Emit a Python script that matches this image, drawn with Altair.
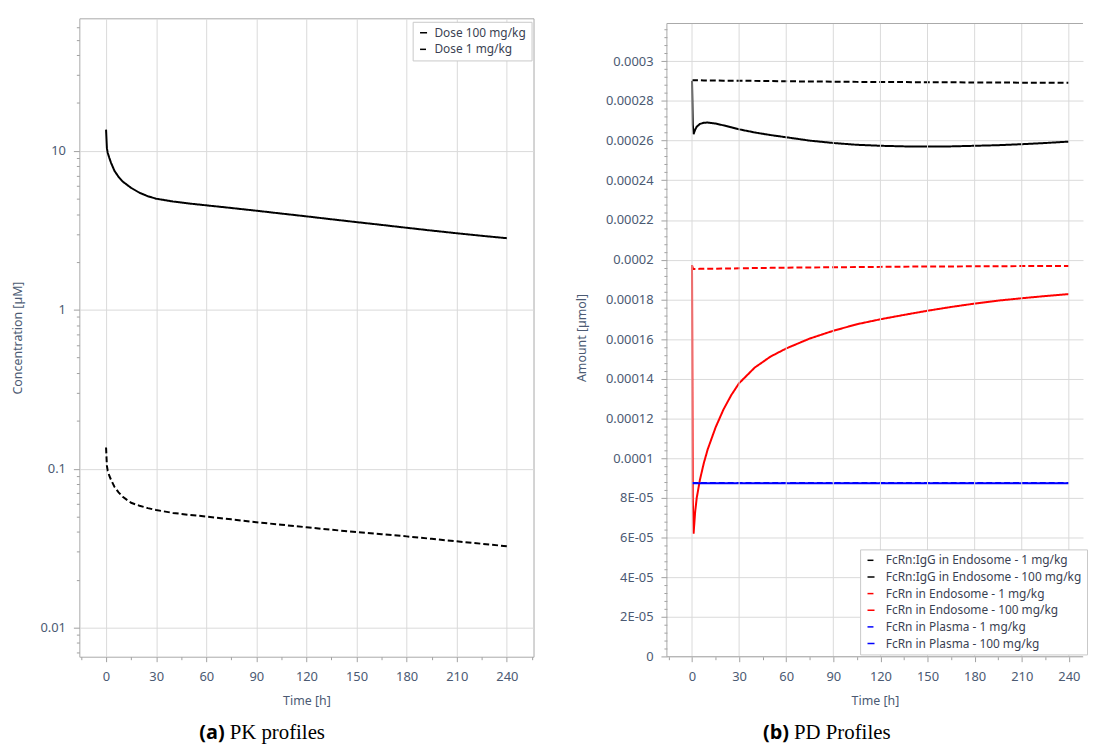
import json
import altair as alt
import pandas as pd

# ---------------- data ----------------
T_PK = [0, 0.5, 1, 2, 3, 5, 7.5, 10, 15, 20, 25, 30, 40, 50, 60, 75, 90, 105,
        120, 135, 150, 165, 180, 195, 210, 225, 240]
PK_DOSE_100 = [13.6, 10.4, 9.7, 9.0, 8.4, 7.5, 6.85, 6.4, 5.85, 5.45, 5.18, 5.0,
               4.8, 4.66, 4.54, 4.37, 4.2, 4.03, 3.87, 3.71, 3.56, 3.42, 3.28,
               3.15, 3.03, 2.92, 2.82]
PK_DOSE_1 = [0.136, 0.104, 0.097, 0.09, 0.085, 0.077, 0.071, 0.0665, 0.061,
             0.0585, 0.0565, 0.0549, 0.0527, 0.0512, 0.05, 0.048, 0.046, 0.0444,
             0.0428, 0.0413, 0.0399, 0.0387, 0.0375, 0.0362, 0.0349, 0.0337,
             0.0325]
PK_SERIES = ["Dose 100 mg/kg", "Dose 1 mg/kg"]

T_PD = [0, 0.5, 1, 2, 3, 5, 7.5, 10, 15, 20, 25, 30, 40, 50, 60, 75, 90, 105,
        120, 135, 150, 165, 180, 195, 210, 225, 240]
IGG_ENDO_1 = [2.905e-4, 2.904e-4, 2.904e-4, 2.904e-4, 2.904e-4, 2.904e-4,
              2.903e-4, 2.903e-4, 2.903e-4, 2.902e-4, 2.902e-4, 2.902e-4,
              2.901e-4, 2.900e-4, 2.899e-4, 2.898e-4, 2.897e-4, 2.896e-4,
              2.895e-4, 2.895e-4, 2.894e-4, 2.894e-4, 2.893e-4, 2.893e-4,
              2.892e-4, 2.892e-4, 2.891e-4]
IGG_ENDO_100 = [2.90e-4, 2.68e-4, 2.633e-4, 2.655e-4, 2.670e-4, 2.684e-4,
                2.690e-4, 2.691e-4, 2.686e-4, 2.677e-4, 2.667e-4, 2.657e-4,
                2.641e-4, 2.628e-4, 2.617e-4, 2.600e-4, 2.588e-4, 2.579e-4,
                2.574e-4, 2.571e-4, 2.570e-4, 2.571e-4, 2.574e-4, 2.577e-4,
                2.582e-4, 2.588e-4, 2.595e-4]
FCRN_ENDO_1 = [1.972e-4, 1.958e-4, 1.953e-4, 1.953e-4, 1.953e-4, 1.954e-4,
               1.954e-4, 1.955e-4, 1.955e-4, 1.956e-4, 1.956e-4, 1.957e-4,
               1.958e-4, 1.959e-4, 1.960e-4, 1.961e-4, 1.962e-4, 1.963e-4,
               1.964e-4, 1.965e-4, 1.966e-4, 1.966e-4, 1.967e-4, 1.967e-4,
               1.968e-4, 1.968e-4, 1.968e-4]
FCRN_ENDO_100 = [1.973e-4, 0.80e-4, 0.62e-4, 0.73e-4, 0.80e-4, 0.89e-4,
                 0.975e-4, 1.045e-4, 1.155e-4, 1.245e-4, 1.318e-4, 1.378e-4,
                 1.457e-4, 1.512e-4, 1.553e-4, 1.603e-4, 1.642e-4, 1.675e-4,
                 1.700e-4, 1.722e-4, 1.743e-4, 1.762e-4, 1.779e-4, 1.794e-4,
                 1.806e-4, 1.817e-4, 1.827e-4]
T_PLASMA = [0, 30, 60, 90, 120, 150, 180, 210, 240]
FCRN_PLASMA_1 = [8.75e-5, 8.75e-5, 8.75e-5, 8.75e-5, 8.75e-5, 8.75e-5,
                 8.75e-5, 8.75e-5, 8.75e-5]
FCRN_PLASMA_100 = [8.74e-5, 8.74e-5, 8.74e-5, 8.74e-5, 8.74e-5, 8.74e-5,
                   8.74e-5, 8.74e-5, 8.74e-5]
PD_SERIES = [
    "FcRn:IgG in Endosome - 1 mg/kg",
    "FcRn:IgG in Endosome - 100 mg/kg",
    "FcRn in Endosome - 1 mg/kg",
    "FcRn in Endosome - 100 mg/kg",
    "FcRn in Plasma - 1 mg/kg",
    "FcRn in Plasma - 100 mg/kg",
]
PD_COLORS = ["#000000", "#000000", "#ff0000", "#ff0000", "#0000ff", "#0000ff"]

# axis ticks / labels
X_MAJOR = [0, 30, 60, 90, 120, 150, 180, 210, 240]
X_LABELS = ["0", "30", "60", "90", "120", "150", "180", "210", "240"]
X_TICKS_LEFT = list(range(-15, 256, 15))
X_TICKS_RIGHT = list(range(-15, 241, 15))

PK_Y_MAJOR = [0.01, 0.1, 1, 10]
PK_Y_LABELS = ["0.01", "0.1", "1", "10"]
PK_Y_TICKS = [m * d for d in (0.001, 0.01, 0.1, 1, 10) for m in range(1, 10)
              if 0.0066 <= m * d <= 68]

PD_Y_MAJOR = [round(i * 2e-5, 10) for i in range(16)]
PD_Y_LABELS = ["0", "2E-05", "4E-05", "6E-05", "8E-05", "0.0001", "0.00012",
               "0.00014", "0.00016", "0.00018", "0.0002", "0.00022",
               "0.00024", "0.00026", "0.00028", "0.0003"]
PD_Y_TICKS = [round(i * 4e-6, 10) for i in range(80)]
PD_FRAME_TOP = 0.000319     # top edge of the PD frame
PD_X_MIN, PD_X_MAX = -16, 249

CAPTION_A = ["(a)", "PK profiles"]
CAPTION_B = ["(b)", "PD Profiles"]

# ---------------- helpers ----------------
LABEL_COLOR = "#4b5a73"
TICK_COLOR = "#a0a0a0"
GRID_COLOR = "#dadada"
FRAME_COLOR = "#a9a9a9"


def is_major(vals):
    return f"indexof({json.dumps(vals)}, datum.value) >= 0"


def label_expr(vals, labels):
    v = json.dumps(vals)
    lab = json.dumps(labels)
    return f"indexof({v}, datum.value) >= 0 ? {lab}[indexof({v}, datum.value)] : ''"


def x_axis(ticks, grid=True):
    return alt.Axis(
        values=ticks,
        labelExpr=label_expr(X_MAJOR, X_LABELS),
        title="Time [h]",
        tickSize={"condition": {"test": is_major(X_MAJOR), "value": 5}, "value": 3},
        gridOpacity={"condition": {"test": is_major(X_MAJOR), "value": 1 if grid else 0},
                     "value": 0},
        labelPadding=9,
        titlePadding=11,
        labelFlush=False,
        labelOverlap=False,
    )


def y_axis(ticks, major, labels, title, title_x):
    return alt.Axis(
        values=ticks,
        labelExpr=label_expr(major, labels),
        title=title,
        titleX=title_x,
        tickSize={"condition": {"test": is_major(major), "value": 6}, "value": 3},
        gridOpacity={"condition": {"test": is_major(major), "value": 1}, "value": 0},
        labelPadding=8,
        labelOverlap=False,
        labelFlush=False,
    )


def legend(x, y, offset):
    return alt.Legend(
        orient="none", legendX=x, legendY=y,
        symbolType="stroke", symbolStrokeWidth=1.5, symbolSize=50,
        labelFont="Noto Sans", labelFontSize=12, labelColor="#3a3f52",
        labelLimit=300, padding=5, rowPadding=4.8, labelOffset=offset,
        strokeColor="#c8c8c8", fillColor="white", cornerRadius=0,
    )


def caption(parts, x_split, y):
    tag = alt.Chart(pd.DataFrame({"c": [parts[0]]})).mark_text(
        font="Open Sans", fontWeight="bold", fontSize=20, align="right",
        baseline="alphabetic", color="black",
    ).encode(text="c:N", x=alt.value(x_split), y=alt.value(y))
    rest = alt.Chart(pd.DataFrame({"c": [parts[1]]})).mark_text(
        font="Liberation Serif", fontSize=21, align="left",
        baseline="alphabetic", color="black",
    ).encode(text="c:N", x=alt.value(x_split + 5), y=alt.value(y))
    return tag + rest


CAPTION_Y = 727
H = 644.3

# ---------------- left panel: PK ----------------
pk_rows = []
for t, v in zip(T_PK, PK_DOSE_100):
    pk_rows.append({"t": t, "v": v, "dose": PK_SERIES[0]})
for t, v in zip(T_PK, PK_DOSE_1):
    pk_rows.append({"t": t, "v": v, "dose": PK_SERIES[1]})
pk_df = pd.DataFrame(pk_rows)

W_L = 458.4
pk_lines = alt.Chart(pk_df).mark_line(strokeWidth=2, color="black", clip=True).encode(
    x=alt.X("t:Q", scale=alt.Scale(domain=[-16, 256], nice=False, zero=False),
            axis=x_axis(X_TICKS_LEFT)),
    y=alt.Y("v:Q", scale=alt.Scale(type="log", domain=[0.00656, 68.2], nice=False),
            axis=y_axis(PK_Y_TICKS, PK_Y_MAJOR, PK_Y_LABELS, "Concentration [µM]", -55)),
    strokeDash=alt.StrokeDash(
        "dose:N", title=None,
        scale=alt.Scale(domain=PK_SERIES, range=[[1, 0], [6, 3]]),
        legend=legend(336.4, 3.5, 5),
    ),
    detail="dose:N",
)
left = alt.layer(pk_lines, caption(CAPTION_A, 146.7, CAPTION_Y)).properties(
    width=W_L, height=H)

# ---------------- right panel: PD ----------------
pd_rows = []
order = [(1, T_PD, IGG_ENDO_100), (0, T_PD, IGG_ENDO_1),
         (3, T_PD, FCRN_ENDO_100), (2, T_PD, FCRN_ENDO_1),
         (5, T_PLASMA, FCRN_PLASMA_100), (4, T_PLASMA, FCRN_PLASMA_1)]
for idx, ts, vs in order:
    for t, v in zip(ts, vs):
        pd_rows.append({"t": t, "v": v, "series": PD_SERIES[idx]})
pd_df = pd.DataFrame(pd_rows)

PX_PER_H = 1.5846
W_R = (PD_X_MAX - PD_X_MIN) * PX_PER_H
# top of the plotting area chosen so that 0.0003 sits 43.3 px below it
PD_Y_TOP = 0.0003 + 43.3 * 0.0003 / 601.0

X_SCALE_R = alt.Scale(domain=[PD_X_MIN, PD_X_MAX], nice=False, zero=False)
Y_SCALE_R = alt.Scale(domain=[0, PD_Y_TOP], nice=False)
X_AXIS_R = x_axis(X_TICKS_RIGHT, grid=False)
Y_AXIS_R = y_axis(PD_Y_TICKS, PD_Y_MAJOR, PD_Y_LABELS, "Amount [µmol]", -78.7)

one = pd.DataFrame({"k": [0]})
pd_lines = alt.Chart(pd_df).mark_line(strokeWidth=2, clip=True).encode(
    x=alt.X("t:Q", scale=X_SCALE_R, axis=X_AXIS_R),
    y=alt.Y("v:Q", scale=Y_SCALE_R, axis=Y_AXIS_R),
    color=alt.Color("series:N", title=None,
                    scale=alt.Scale(domain=PD_SERIES, range=PD_COLORS),
                    legend=legend(195, 536, 9)),
    strokeDash=alt.StrokeDash(
        "series:N", title=None,
        scale=alt.Scale(domain=PD_SERIES,
                        range=[[6, 3], [1, 0], [6, 3], [1, 0], [6, 3], [1, 0]]),
        legend=legend(195, 536, 9),
    ),
)
vgrid = alt.Chart(pd.DataFrame({"t": X_MAJOR})).mark_rule(
    color=GRID_COLOR, strokeWidth=1).encode(
    x=alt.X("t:Q", scale=X_SCALE_R, axis=X_AXIS_R),
    y=alt.Y(datum=PD_FRAME_TOP, type="quantitative", scale=Y_SCALE_R, axis=Y_AXIS_R),
    y2=alt.Y2(datum=0))
frame_left = alt.Chart(one).mark_rule(color=FRAME_COLOR, strokeWidth=1).encode(
    x=alt.X(datum=PD_X_MIN, type="quantitative", scale=X_SCALE_R, axis=X_AXIS_R),
    y=alt.Y(datum=PD_FRAME_TOP, type="quantitative", scale=Y_SCALE_R, axis=Y_AXIS_R),
    y2=alt.Y2(datum=0))
frame_top = alt.Chart(one).mark_rule(color=FRAME_COLOR, strokeWidth=1).encode(
    x=alt.X(datum=PD_X_MIN, type="quantitative", scale=X_SCALE_R, axis=X_AXIS_R),
    x2=alt.X2(datum=PD_X_MAX),
    y=alt.Y(datum=PD_FRAME_TOP, type="quantitative", scale=Y_SCALE_R, axis=Y_AXIS_R))
frame_bottom = alt.Chart(one).mark_rule(color=FRAME_COLOR, strokeWidth=1).encode(
    x=alt.X(datum=PD_X_MIN, type="quantitative", scale=X_SCALE_R, axis=X_AXIS_R),
    x2=alt.X2(datum=PD_X_MAX),
    y=alt.Y(datum=0, type="quantitative", scale=Y_SCALE_R, axis=Y_AXIS_R))

right = alt.layer(
    pd_lines, vgrid, frame_left, frame_top, frame_bottom,
    caption(CAPTION_B, 123.3, CAPTION_Y),
).properties(width=W_R, height=H, view=alt.ViewBackground(stroke="transparent"))

chart = alt.concat(left, right, columns=2, spacing=41).resolve_scale(
    color="independent", strokeDash="independent"
).resolve_legend(
    color="independent", strokeDash="independent"
).properties(
    padding={"left": 3, "top": 6, "right": 0, "bottom": 0}
).configure_view(
    stroke=FRAME_COLOR, strokeWidth=1
).configure_axis(
    labelFont="Noto Sans", labelFontSize=13, labelColor=LABEL_COLOR,
    titleFont="Noto Sans", titleFontSize=12.5, titleFontWeight="normal",
    titleColor=LABEL_COLOR, tickColor=TICK_COLOR, gridColor=GRID_COLOR,
    domain=False,
)

chart.save("out.html", embed_options={"renderer": "svg", "actions": False})
